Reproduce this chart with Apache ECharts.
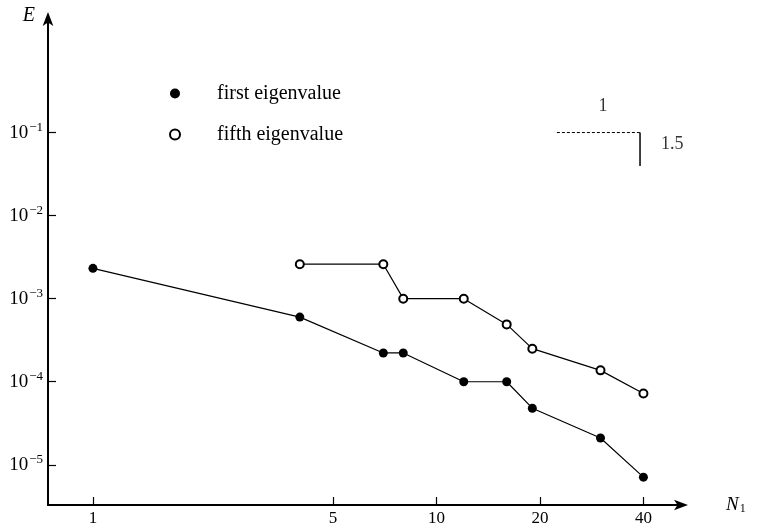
<!DOCTYPE html>
<html>
<head>
<meta charset="utf-8">
<script src="https://cdn.jsdelivr.net/npm/echarts@6/dist/echarts.min.js"></script>
<style>
html,body{margin:0;padding:0;background:#fff;}
#chart{width:759px;height:527px;}
</style>
</head>
<body>
<div id="chart"></div>
<script>
// ---- data ----
var firstN = [1, 4, 7, 8, 12, 16, 19, 30, 40];
var firstE = [2.32e-3, 6.0e-4, 2.22e-4, 2.22e-4, 1.0e-4, 1.0e-4, 4.8e-5, 2.1e-5, 7.1e-6];
var fifthN = [4, 7, 8, 12, 16, 19, 30, 40];
var fifthE = [2.6e-3, 2.6e-3, 1.0e-3, 1.0e-3, 4.9e-4, 2.5e-4, 1.37e-4, 7.2e-5];
var xTicks = [1, 5, 10, 20, 40];
var yTicks = [1e-5, 1e-4, 1e-3, 1e-2, 1e-1];
// slope triangle annotation (data coordinates)
var slopeRun = [[22.4, 0.1], [39.1, 0.1]];
var slopeRise = [[39.1, 0.1], [39.1, 0.0396]];
var slopeLabels = [[30.5, 0.205, '1'], [48.5, 0.0718, '1.5']];

function zip(a, b) { return a.map(function (v, i) { return [v, b[i]]; }); }

var serif = 'Liberation Serif';
var chart = echarts.init(document.getElementById('chart'));
chart.setOption({
  animation: false,
  backgroundColor: '#fff',
  grid: { left: 48, right: 75, top: 16, bottom: 20, containLabel: false },
  legend: {
    left: 164, top: 78, orient: 'vertical', itemGap: 20,
    itemWidth: 10, itemHeight: 10,
    data: [
      { name: 'first eigenvalue', icon: 'circle' },
      { name: 'fifth eigenvalue', icon: 'emptyCircle' }
    ],
    textStyle: { fontFamily: serif, fontSize: 20, color: '#000', lineHeight: 21, padding: [0, 0, 0, 32] }
  },
  xAxis: {
    type: 'log', logBase: 10, min: 0.740, max: 52.5,
    name: '{n|N}{s|1}', nameLocation: 'end', nameGap: 42,
    nameTextStyle: {
      rich: {
        n: { fontFamily: serif, fontStyle: 'italic', fontSize: 19, color: '#000' },
        s: { fontFamily: serif, fontSize: 12, color: '#000', padding: [8, 0, 0, 1] }
      }
    },
    axisLine: { show: true, lineStyle: { color: '#000', width: 2 }, symbol: ['none', 'arrow'], symbolSize: [8, 14], symbolOffset: [0, 4] },
    axisTick: { show: true, inside: true, length: 8, lineStyle: { color: '#000', width: 1.2 }, customValues: xTicks },
    axisLabel: { show: true, customValues: xTicks, fontFamily: serif, fontSize: 17, color: '#000', margin: 5,
      formatter: function (v) { return String(Math.round(v)); } },
    splitLine: { show: false },
    minorTick: { show: false }
  },
  yAxis: {
    type: 'log', logBase: 10, min: 3.28e-6, max: 2.53,
    name: 'E', nameLocation: 'end', nameGap: -10,
    nameTextStyle: { fontFamily: serif, fontStyle: 'italic', fontSize: 20, color: '#000', align: 'right', padding: [0, 13, 0, 0] },
    axisLine: { show: true, lineStyle: { color: '#000', width: 2 }, symbol: ['none', 'arrow'], symbolSize: [8, 14], symbolOffset: [0, 4] },
    axisTick: { show: true, inside: true, length: 8, lineStyle: { color: '#000', width: 1.2 }, customValues: yTicks },
    axisLabel: { show: true, customValues: yTicks, margin: 5,
      formatter: function (v) { var e = Math.round(Math.log10(v)); return '{b|10}{s|\u2212' + (-e) + '}'; },
      rich: {
        b: { fontFamily: serif, fontSize: 19, color: '#000' },
        s: { fontFamily: serif, fontSize: 13, color: '#000', padding: [0, 0, 10, 1] }
      }
    },
    splitLine: { show: false },
    minorTick: { show: false }
  },
  series: [
    {
      name: 'first eigenvalue', type: 'line', data: zip(firstN, firstE),
      symbol: 'circle', symbolSize: 9,
      itemStyle: { color: '#000' },
      lineStyle: { color: '#000', width: 1.2 }
    },
    {
      name: 'fifth eigenvalue', type: 'line', data: zip(fifthN, fifthE),
      symbol: 'emptyCircle', symbolSize: 8,
      itemStyle: { color: '#000', borderColor: '#000', borderWidth: 1.3 },
      lineStyle: { color: '#000', width: 1.2 }
    },
    {
      name: 'slopeRun', type: 'line', data: slopeRun, symbol: 'none', silent: true,
      lineStyle: { color: '#000', width: 1, type: [3, 2] }
    },
    {
      name: 'slopeRise', type: 'line', data: slopeRise, symbol: 'none', silent: true,
      lineStyle: { color: '#000', width: 1.5 }
    },
    {
      name: 'slopeLabels', type: 'scatter', symbolSize: 0, silent: true,
      data: slopeLabels.map(function (d) { return { value: [d[0], d[1]], name: d[2] }; }),
      label: { show: true, position: 'inside', formatter: '{b}', fontFamily: serif, fontSize: 18, color: '#000' }
    }
  ]
});
</script>
</body>
</html>
